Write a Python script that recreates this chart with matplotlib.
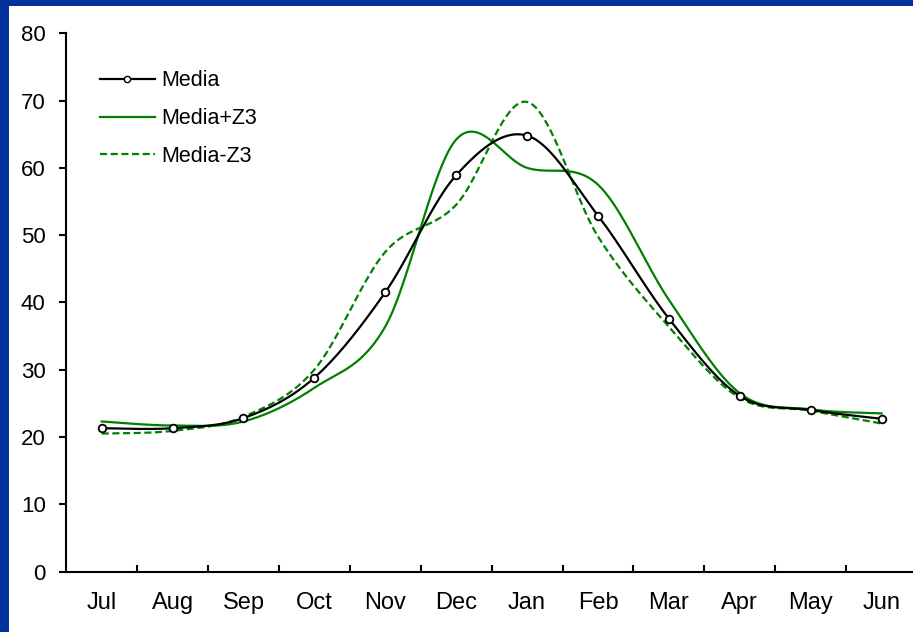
import numpy as np
import matplotlib
matplotlib.use("Agg")
import matplotlib.pyplot as plt
from matplotlib.patches import Rectangle
from matplotlib.lines import Line2D

plt.rcParams['font.family'] = ['Liberation Sans', 'DejaVu Sans']

months = ["Jul", "Aug", "Sep", "Oct", "Nov", "Dec", "Jan", "Feb", "Mar", "Apr", "May", "Jun"]
media = [21.3, 21.3, 22.8, 28.8, 41.5, 58.9, 64.8, 52.9, 37.6, 26.1, 24.0, 22.7]
media_plus_z3 = [22.3, 21.7, 22.3, 27.3, 36.4, 64.2, 60.0, 57.5, 40.4, 26.5, 24.1, 23.5]
media_minus_z3 = [20.5, 20.9, 23.0, 30.0, 47.5, 54.5, 69.8, 49.8, 36.4, 25.8, 23.9, 22.0]
yticks = [0, 10, 20, 30, 40, 50, 60, 70, 80]


def smooth(values, steps=40):
    """Cubic Bezier smoothing through every point (spreadsheet-style)."""
    y = np.asarray(values, dtype=float)
    x = np.arange(len(y), dtype=float)
    n = len(y)
    xs, ys = [], []
    t = np.linspace(0, 1, steps, endpoint=False)
    for i in range(n - 1):
        im1 = max(i - 1, 0)
        ip2 = min(i + 2, n - 1)
        p0 = np.array([x[i], y[i]])
        p3 = np.array([x[i + 1], y[i + 1]])
        p1 = p0 + (np.array([x[i + 1], y[i + 1]]) - np.array([x[im1], y[im1]])) / 6.0
        p2 = p3 - (np.array([x[ip2], y[ip2]]) - np.array([x[i], y[i]])) / 6.0
        b = ((1 - t) ** 3)[:, None] * p0 + (3 * (1 - t) ** 2 * t)[:, None] * p1 \
            + (3 * (1 - t) * t ** 2)[:, None] * p2 + (t ** 3)[:, None] * p3
        xs.append(b[:, 0])
        ys.append(b[:, 1])
    xs.append([x[-1]])
    ys.append([y[-1]])
    return np.concatenate(xs), np.concatenate(ys)


W, H = 913, 632
fig = plt.figure(figsize=(W / 100, H / 100), dpi=100)
fig.patch.set_facecolor("white")

# dark blue frame along the left and top edges
blue = "#003399"
fig.patches.append(Rectangle((0, 0), 9 / W, 1, transform=fig.transFigure,
                             facecolor=blue, edgecolor="none", zorder=0))
fig.patches.append(Rectangle((0, 1 - 6 / H), 1, 6 / H, transform=fig.transFigure,
                             facecolor=blue, edgecolor="none", zorder=0))

left = 66.2 / W
width = 12 * 70.9 / W
bottom = (H - 571.5) / H
height = (571.5 - 33.3) / H
ax = fig.add_axes([left, bottom, width, height])

green = "#008000"
lw = 1.6
dash = (0, (3.2, 1.6))
mk = dict(marker="o", markersize=5.5, markerfacecolor="white",
          markeredgecolor="black", markeredgewidth=1.3)

xm, ym = smooth(media)
xp, yp = smooth(media_plus_z3)
xn, yn = smooth(media_minus_z3)

ax.plot(xm, ym, color="black", lw=lw, zorder=4)
ax.plot(np.arange(len(media)), media, linestyle="none", zorder=5, **mk)
ax.plot(xp, yp, color=green, lw=lw, zorder=3)
ax.plot(xn, yn, color=green, lw=lw, linestyle=dash, zorder=3)

ax.set_xlim(-0.5, 11.5)
ax.set_ylim(0, 80)

ax.spines["top"].set_visible(False)
ax.spines["right"].set_visible(False)
for s in ("left", "bottom"):
    ax.spines[s].set_linewidth(1.5)
    ax.spines[s].set_color("black")

ax.set_yticks(yticks)
ax.tick_params(axis="y", direction="out", length=4.8, width=1.5, pad=10,
               labelsize=16)

ax.set_xticks(np.arange(0.5, 11, 1.0))
ax.set_xticklabels([])
ax.tick_params(axis="x", which="major", direction="in", length=5, width=1.5)
ax.set_xticks(np.arange(len(months)), minor=True)
ax.set_xticklabels(months, minor=True)
ax.tick_params(axis="x", which="minor", length=0, pad=15, labelsize=17)

handles = [
    Line2D([], [], color="black", lw=lw, markersize=4.5, marker="o",
           markerfacecolor="white", markeredgecolor="black", markeredgewidth=1.0),
    Line2D([], [], color=green, lw=lw),
    Line2D([], [], color=green, lw=lw, linestyle=dash),
]
ax.legend(handles, ["Media", "Media+Z3", "Media-Z3"], loc="upper left",
          bbox_to_anchor=(0.0397, 0.931), frameon=False, fontsize=15.5,
          handlelength=2.55, handletextpad=0.3, labelspacing=0.78,
          borderpad=0, borderaxespad=0, numpoints=1)

fig.savefig("out.png", dpi=100)
